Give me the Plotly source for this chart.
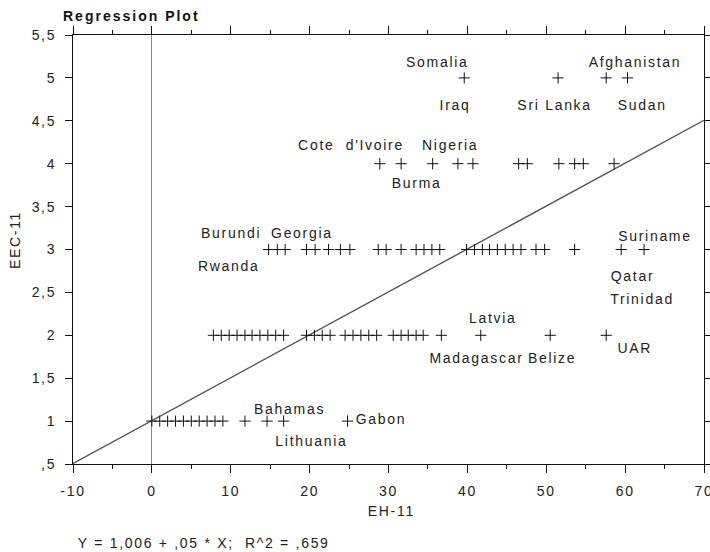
import plotly.graph_objects as go

# EH-11 values of the cases, grouped by their EEC-11 level
eh_at_eec1 = [0, 1, 2, 3, 4, 5, 6, 7, 8, 9, 11.8, 14.6, 16.7, 24.8]
eh_at_eec2 = [7.8, 8.8, 9.8, 10.8, 11.8, 12.7, 13.7, 14.7, 15.7, 16.7,
              19.6, 20.6, 21.6, 22.6,
              24.5, 25.5, 26.5, 27.5, 28.5,
              30.6, 31.6, 32.5, 33.5, 34.4,
              36.7, 41.7, 50.5, 57.6]
eh_at_eec3 = [14.8, 15.9, 16.9, 19.6, 20.7, 22.4, 23.9, 25.1, 28.7, 29.7,
              31.6, 33.5, 34.5, 35.5, 36.5,
              39.9, 40.9, 41.9, 42.8, 43.8, 44.8, 45.8, 46.8,
              48.7, 49.8, 53.6, 59.5, 62.4]
eh_at_eec4 = [28.9, 31.6, 35.6, 38.8, 40.7, 46.5, 47.6, 51.6, 53.6, 54.7, 58.6]
eh_at_eec5 = [39.6, 51.5, 57.6, 60.3]

# Fitted regression: Y = 1,006 + ,05 * X ; R^2 = ,659
intercept = 1.006
slope = 0.05
r_squared = 0.659

# Country labels and where they sit in data space
label_text = ["Somalia", "Iraq", "Sri Lanka", "Afghanistan", "Sudan",
              "Cote\u00a0 d'Ivoire", "Nigeria", "Burma",
              "Burundi", "Georgia", "Rwanda", "Suriname", "Qatar", "Trinidad",
              "Latvia", "Madagascar", "Belize", "UAR",
              "Bahamas", "Gabon", "Lithuania"]
label_x = [36.2, 38.4, 51.0, 61.3, 62.1,
           25.2, 37.8, 33.5,
           10.0, 19.0, 9.8, 63.8, 60.9, 62.2,
           43.3, 41.1, 50.7, 61.3,
           17.4, 29.1, 20.3]
label_y = [5.18, 4.69, 4.69, 5.18, 4.69,
           4.22, 4.22, 3.78,
           3.19, 3.19, 2.81, 3.16, 2.69, 2.42,
           2.20, 1.73, 1.73, 1.85,
           1.14, 1.03, 0.77]

x_ticks = [-10, 0, 10, 20, 30, 40, 50, 60, 70]
y_ticks = [0.5, 1, 1.5, 2, 2.5, 3, 3.5, 4, 4.5, 5, 5.5]
y_tick_text = [",5", "1", "1,5", "2", "2,5", "3", "3,5", "4", "4,5", "5", "5,5"]


def fmt(v):
    s = f"{v:g}".replace(".", ",")
    return s[1:] if s.startswith("0,") else s


groups = [(1, eh_at_eec1), (2, eh_at_eec2), (3, eh_at_eec3),
          (4, eh_at_eec4), (5, eh_at_eec5)]
xs = [x for _, g in groups for x in g]
ys = [lvl for lvl, g in groups for _ in g]

FONT = "Liberation Sans, Arial, sans-serif"
INK = "#222222"

fig = go.Figure()

x_range = [x_ticks[0], x_ticks[-1]]
fig.add_trace(go.Scatter(
    x=x_range, y=[intercept + slope * v for v in x_range],
    mode="lines", line=dict(color="#555555", width=1.4),
    hoverinfo="skip", showlegend=False))

fig.add_trace(go.Scatter(
    x=xs, y=ys, mode="markers",
    marker=dict(symbol="cross-thin", size=8,
                line=dict(color="#111111", width=1)),
    showlegend=False))

annotations = [
    dict(x=x, y=y, xref="x", yref="y", text=t, showarrow=False,
         xanchor="center", yanchor="middle",
         font=dict(family=FONT, size=14, color=INK))
    for t, x, y in zip(label_text, label_x, label_y)
]
annotations += [
    dict(x=-0.092, y=0.522, xref="paper", yref="paper", text="EEC-11",
         textangle=-90, showarrow=False, xanchor="center", yanchor="middle",
         font=dict(family=FONT, size=14, color=INK)),
    dict(x=0.504, y=-0.11, xref="paper", yref="paper", text="EH-11",
         showarrow=False, xanchor="center", yanchor="middle",
         font=dict(family=FONT, size=14, color=INK)),
    dict(x=0.207, y=-0.184, xref="paper", yref="paper",
         text=f"Y = {fmt(intercept)} + {fmt(slope)} * X;\u00a0 R^2 = {fmt(r_squared)}",
         showarrow=False, xanchor="center", yanchor="middle",
         font=dict(family=FONT, size=14, color=INK)),
]

fig.update_layout(
    width=710, height=552,
    margin=dict(l=73, r=6, t=35, b=88, autoexpand=False),
    paper_bgcolor="white", plot_bgcolor="white",
    title=dict(text="<b>Regression Plot</b>", xref="container", x=63 / 710,
               xanchor="left", yref="container", y=1 - 16.5 / 552,
               yanchor="middle", automargin=False,
               font=dict(family=FONT, size=14, color="#111111")),
    annotations=annotations,
    showlegend=False,
    hovermode=False,
)

fig.update_xaxes(
    range=x_range, tickvals=x_ticks, ticktext=[str(v) for v in x_ticks],
    ticks="outside", ticklen=8, tickwidth=1, tickcolor="#111111",
    showline=True, linecolor="#111111", linewidth=1, mirror="allticks",
    showgrid=False, zeroline=True, zerolinecolor="#8a8a8a", zerolinewidth=1,
    minor=dict(dtick=5, tick0=-5, ticks="outside", ticklen=4,
               tickcolor="#111111", showgrid=False),
    tickfont=dict(family=FONT, size=14, color=INK),
    ticklabelstandoff=6, ticklabeloverflow="allow", automargin=False,
)
fig.update_yaxes(
    range=[y_ticks[0], y_ticks[-1]], tickvals=y_ticks, ticktext=y_tick_text,
    ticks="outside", ticklen=7, tickwidth=1, tickcolor="#111111",
    showline=True, linecolor="#111111", linewidth=1, mirror="allticks",
    showgrid=False, zeroline=False,
    tickfont=dict(family=FONT, size=14, color=INK),
    ticklabelstandoff=6, automargin=False,
)

# widen the letter spacing of all chart text
spacing_js = """
var gd = document.getElementById('{plot_id}');
gd.querySelectorAll('text').forEach(function (t) { t.style.letterSpacing = '1.7px'; });
gd.querySelectorAll('.gtitle').forEach(function (t) { t.style.letterSpacing = '2px'; });
"""

fig.write_html("out.html", post_script=spacing_js)
